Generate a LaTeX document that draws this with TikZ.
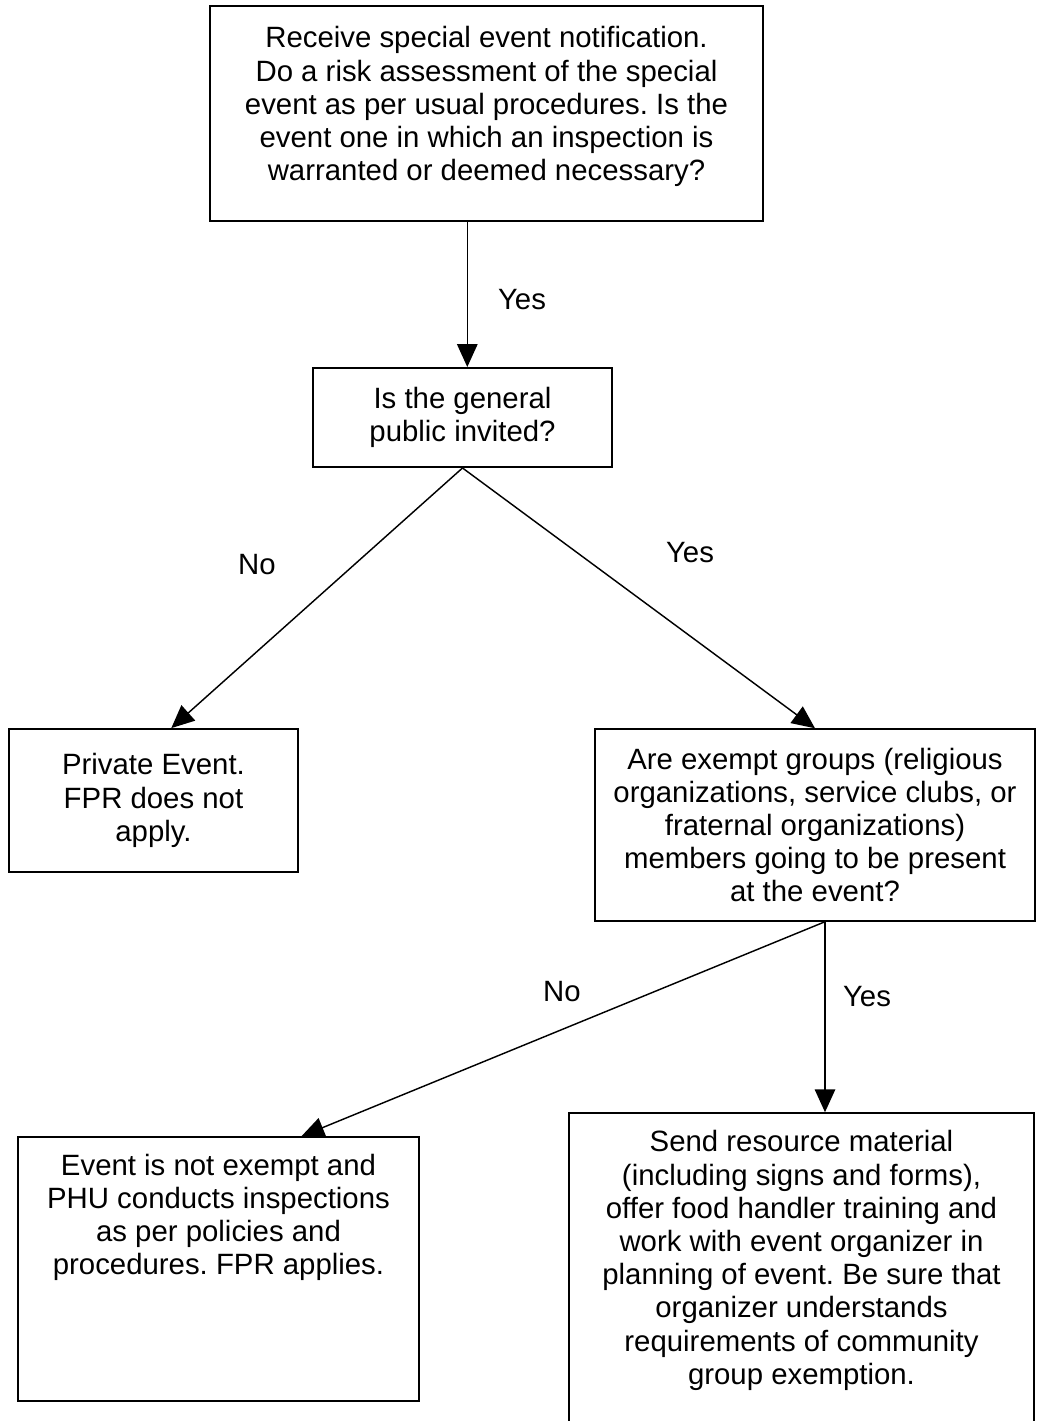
\documentclass[tikz,border=0pt]{standalone}
\usepackage{fontspec}
\setmainfont{Liberation Sans}
\usetikzlibrary{arrows.meta,positioning}
\frenchspacing

\begin{document}
\begin{tikzpicture}[x=0.0146cm,y=-0.0146cm,
    box/.style={draw,line width=0.7pt,align=center,inner sep=0pt},
    boxtext/.style={align=center,inner sep=0pt},
    flow/.style={line width=0.6pt,-{Triangle[length=9.5pt,width=8.5pt]}},
    answer/.style={inner sep=0pt},
    font=\fontsize{12.2}{13.8}\selectfont]
  \useasboundingbox (0,0) rectangle (1037,1421);
  % boxes
  \node[box,minimum width=8.07cm,minimum height=3.14cm] (notify) at (486.5,113.5)
    {Receive special event notification.\\Do a risk assessment of the special\\event as per usual procedures. Is the\\event one in which an inspection is\\warranted or deemed necessary?\\[-0.2cm]};
  \node[box,minimum width=4.37cm,minimum height=1.45cm] (public) at (462.5,417.5)
    {Is the general\\public invited?};
  \node[box,minimum width=4.22cm,minimum height=2.09cm] (private) at (153.5,800.5)
    {Private Event.\\FPR does not\\apply.};
  \node[box,minimum width=6.42cm,minimum height=2.80cm] (groups) at (815,825)
    {Are exempt groups (religious\\organizations, service clubs, or\\fraternal organizations)\\members going to be present\\at the event?};
  \node[box,minimum width=5.85cm,minimum height=3.85cm] (notexempt) at (218.5,1269) {};
  \node[boxtext,below=0.25cm of notexempt.north] (notexempttext)
    {Event is not exempt and\\PHU conducts inspections\\as per policies and\\procedures. FPR applies.};
  \node[box,minimum width=6.79cm,minimum height=4.89cm] (resource) at (801.5,1280.5) {};
  \node[boxtext,below=0.26cm of resource.north] (resourcetext)
    {Send resource material\\(including signs and forms),\\offer food handler training and\\work with event organizer in\\planning of event. Be sure that\\organizer understands\\requirements of community\\group exemption.};
  % connectors
  \draw[flow] ([xshift=0.07cm]notify.south -| public.north) -- ([xshift=0.07cm]public.north);
  \draw[flow] (public.south) -- ([xshift=0.26cm]private.north);
  \draw[flow] (public.south) -- (groups.north);
  \coordinate (split) at ([xshift=0.146cm]groups.south);
  \draw[flow] (split) -- ([xshift=1.21cm]notexempt.north);
  \draw[flow] (split) -- (split |- resource.north);
  % answers
  \node[answer] (yes1) at (522,300) {Yes};
  \node[answer] (no1) at (257,565) {No};
  \node[answer] (yes2) at (690,553) {Yes};
  \node[answer] (no2) at (562,992) {No};
  \node[answer] (yes3) at (867,997) {Yes};
\end{tikzpicture}
\end{document}
